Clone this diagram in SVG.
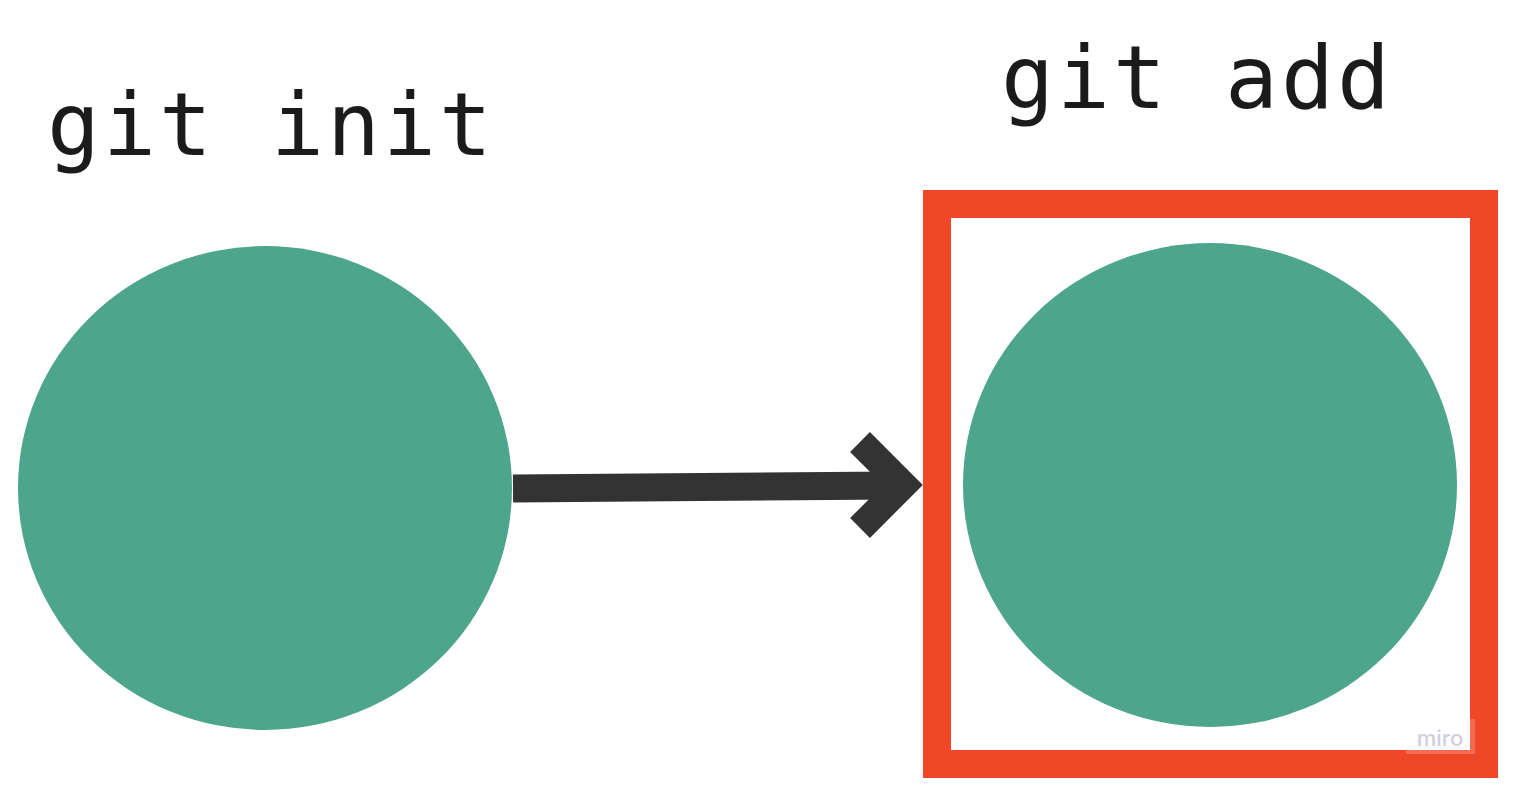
<svg xmlns="http://www.w3.org/2000/svg" width="1518" height="802" viewBox="0 0 1518 802">
<style>
.lbl{font-family:"DejaVu Sans Mono","Liberation Mono",monospace;font-size:88px;letter-spacing:3px;fill:#1b1b1b;text-anchor:middle}
.node{fill:#4da68b}
.conn{stroke:#333333;fill:none;stroke-width:28}
</style>
<rect width="1518" height="802" fill="#ffffff"/>
<g id="node-init">
<ellipse class="node" cx="265" cy="488" rx="247" ry="242"/>
<text class="lbl" x="271" y="155">git init</text>
</g>
<g id="node-add">
<rect x="937" y="204" width="547" height="560" fill="none" stroke="#ee4827" stroke-width="28"/>
<ellipse class="node" cx="1210" cy="485" rx="247" ry="242"/>
<text class="lbl" x="1197" y="108">git add</text>
</g>
<g id="connectors">
<line class="conn" x1="513" y1="488.5" x2="895" y2="485.5"/>
<polyline class="conn" stroke-width="27" stroke-linejoin="miter" points="860,442 903,485 860,528"/>
</g>
<g id="watermark">
<rect x="1406" y="719" width="69" height="35" fill="#ffffff" fill-opacity="0.2"/>
<text x="1440" y="746" font-family="Inter,'Noto Sans',sans-serif" font-size="22" font-weight="500" fill="#cfcfdd" text-anchor="middle">miro</text>
</g>
</svg>
